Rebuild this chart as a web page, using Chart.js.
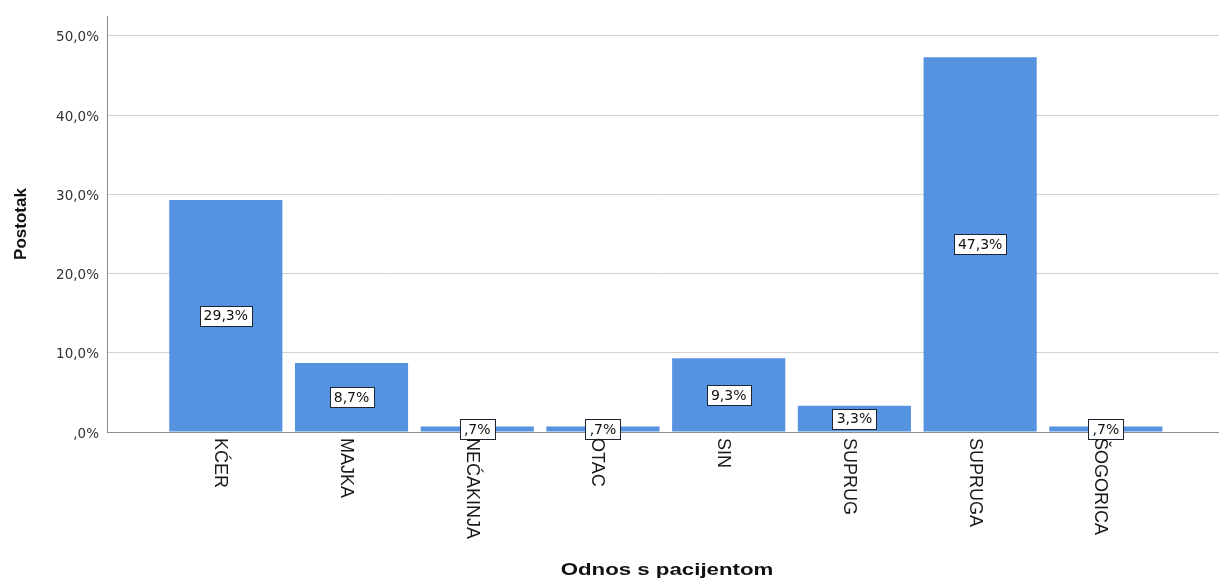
<!DOCTYPE html>
<html lang="hr">
<head>
<meta charset="utf-8">
<title>Odnos s pacijentom</title>
<script src="https://cdn.jsdelivr.net/npm/chart.js@4.4.1/dist/chart.umd.min.js"></script>
<style>
  html, body { margin: 0; padding: 0; background: #ffffff; overflow: hidden; }
  #wrap { position: relative; width: 1219px; height: 579px; }
</style>
</head>
<body>
<div id="wrap"><canvas id="chart"></canvas></div>
<script>
// Relationship of the respondent to the patient, share of respondents (%)
const categories = ['KĆER', 'MAJKA', 'NEĆAKINJA', 'OTAC', 'SIN', 'SUPRUG', 'SUPRUGA', 'ŠOGORICA'];
const percentages = [29.3, 8.7, 0.7, 0.7, 9.3, 3.3, 47.3, 0.7];
const yTicks = [0, 10, 20, 30, 40, 50];

const yTitle = 'Postotak';
const xTitle = 'Odnos s pacijentom';

// SPSS-style percent: decimal comma, no leading zero ("0,7" -> ",7")
function pct(v) {
  let s = v.toFixed(1).replace('.', ',');
  if (s.startsWith('0')) s = s.slice(1);
  return s + '%';
}

// Value boxes in the middle of each bar
const valueBoxes = {
  id: 'valueBoxes',
  afterDatasetsDraw(chart) {
    const ctx = chart.ctx;
    const meta = chart.getDatasetMeta(0);
    ctx.save();
    ctx.font = '14px "DejaVu Sans"';
    ctx.textAlign = 'center';
    ctx.textBaseline = 'middle';
    meta.data.forEach((bar, i) => {
      const text = pct(percentages[i]);
      const cx = bar.x;
      const cy = (bar.y + bar.base) / 2;
      const w = Math.round(ctx.measureText(text).width) + 8;
      const h = 20;
      const x0 = Math.round(cx - w / 2) + 0.5;
      const y0 = Math.round(cy - h / 2) + 0.5;
      ctx.fillStyle = '#ffffff';
      ctx.fillRect(x0, y0, w, h);
      ctx.strokeStyle = '#1c2633';
      ctx.lineWidth = 1;
      ctx.strokeRect(x0, y0, w, h);
      ctx.fillStyle = '#111111';
      ctx.fillText(text, cx, cy + 1);
    });
    ctx.restore();
  }
};

// Category names written downwards under the axis, plus both axis titles
const axisText = {
  id: 'axisText',
  afterDraw(chart) {
    const ctx = chart.ctx;
    const xs = chart.scales.x;
    const area = chart.chartArea;
    ctx.save();
    ctx.fillStyle = '#1a1a1a';
    ctx.font = '18px "Liberation Sans", Arial, sans-serif';
    ctx.textAlign = 'left';
    ctx.textBaseline = 'alphabetic';
    categories.forEach((name, i) => {
      const px = xs.getPixelForValue(i);
      ctx.save();
      ctx.translate(px - 10.5, area.bottom + 6);
      ctx.rotate(Math.PI / 2);
      ctx.fillText(name, 0, 0);
      ctx.restore();
    });

    // x axis title
    ctx.save();
    ctx.fillStyle = '#111111';
    ctx.font = 'bold 16px "Liberation Sans", Arial, sans-serif';
    ctx.textAlign = 'center';
    ctx.textBaseline = 'middle';
    ctx.translate((area.left + area.right) / 2 + 4, 571);
    ctx.scale(1.39, 1);
    ctx.fillText(xTitle, 0, 0);
    ctx.restore();

    // y axis title
    ctx.save();
    ctx.fillStyle = '#111111';
    ctx.font = 'bold 17px "Liberation Sans", Arial, sans-serif';
    ctx.textAlign = 'center';
    ctx.textBaseline = 'middle';
    ctx.translate(21, (area.top + area.bottom) / 2);
    ctx.rotate(-Math.PI / 2);
    ctx.fillText(yTitle, 0, 0);
    ctx.restore();

    ctx.restore();
  }
};

new Chart(document.getElementById('chart'), {
  type: 'bar',
  data: {
    datasets: [{
      data: percentages.map((v, i) => ({ x: i, y: v })),
      backgroundColor: '#5592e0',
      borderWidth: 0,
      barPercentage: 0.9,
      categoryPercentage: 1.0
    }]
  },
  options: {
    responsive: true,
    maintainAspectRatio: false,
    animation: false,
    devicePixelRatio: 1,
    layout: { padding: { top: 15, right: 0, bottom: 0, left: 0 } },
    plugins: {
      legend: { display: false },
      tooltip: { enabled: false }
    },
    scales: {
      x: {
        type: 'linear',
        min: -0.945,
        max: 7.9,
        offset: false,
        afterBuildTicks(scale) {
          // one tick per category position
          scale.ticks = categories.map((_, i) => ({ value: i }));
        },
        grid: { display: false },
        border: { display: true, color: '#8c8c8c', width: 1 },
        ticks: { display: false },
        afterFit(scale) { scale.height = 147; }
      },
      y: {
        min: 0,
        max: 52.5,
        afterBuildTicks(scale) {
          scale.ticks = yTicks.map(v => ({ value: v }));
        },
        grid: { color: '#d2d2d2', lineWidth: 1, drawTicks: false },
        border: { display: true, color: '#8c8c8c', width: 1 },
        ticks: {
          padding: 8,
          labelOffset: 2,
          color: '#333333',
          font: { family: '"DejaVu Sans"', size: 13.5 },
          callback: (v) => pct(v)
        },
        afterFit(scale) { scale.width = 107; }
      }
    }
  },
  plugins: [valueBoxes, axisText]
});
</script>
</body>
</html>
